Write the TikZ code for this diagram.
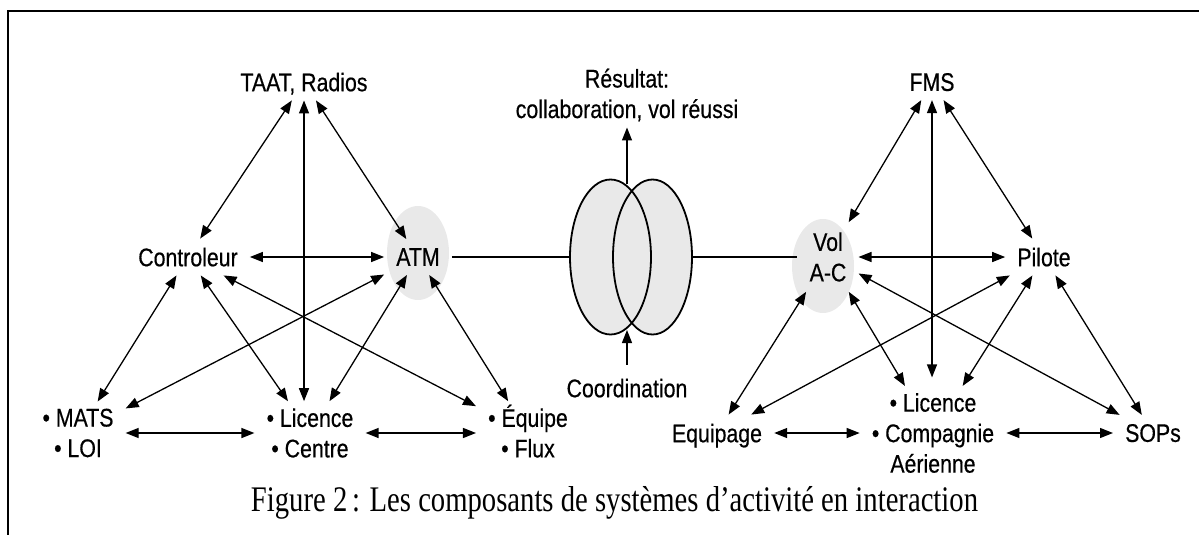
\documentclass[tikz,border=0pt]{standalone}
\usepackage{fontspec}
\usepackage{graphicx}
\setmainfont{Liberation Sans}[BoldFont=Liberation Sans, BoldFeatures={FakeBold=0.5}]
\newfontfamily\capfont{Liberation Serif}
\usetikzlibrary{arrows.meta,shapes.geometric}
\definecolor{bggray}{RGB}{233,233,233}
\newcommand{\nr}[1]{\scalebox{0.835}[1]{#1}}
\begin{document}
\begin{tikzpicture}[x=1pt,y=-1pt,
  lab/.style={rectangle, inner xsep=12pt, inner ysep=9pt, text depth=0pt, font=\fontsize{25.5}{30.5}\selectfont\bfseries},
  multi/.style={rectangle, align=center, inner xsep=12pt, inner ysep=7pt, font=\fontsize{25.5}{30.5}\selectfont\bfseries},
  conn/.style={line width=1.3pt, {Triangle[length=13pt,width=10pt]}-{Triangle[length=13pt,width=10pt]}},
  one/.style={line width=1.3pt, -{Triangle[length=13pt,width=10pt]}},
  plain/.style={line width=1.3pt},
  bigell/.style={ellipse, minimum height=155pt, inner sep=0pt, fill=bggray},
  ellline/.style={line width=1.8pt}
]
\useasboundingbox (0,0) rectangle (1199,535);
\draw[line width=2pt] (8,535) -- (8,11) -- (1199,11);

% background ellipses
\fill[bggray] (418,253) ellipse [x radius=31pt, y radius=47pt];
\fill[bggray] (823,266) ellipse [x radius=31pt, y radius=47pt];

% left system
\node[lab] (taat) at (304,82) {\nr{TAAT, Radios}};
\node[lab] (ctrl) at (188,257) {\nr{Controleur}};
\node[lab] (atm) at (418,257) {\nr{ATM}};
\node[multi] (mats) at (78,433) {\nr{• MATS}\\\nr{• LOI}};
\node[multi] (lic) at (310,433) {\nr{• Licence}\\\nr{• Centre}};
\node[multi] (equ) at (528,433) {\nr{• \smash{É}quipe}\\\nr{• Flux}};

% centre
\node[bigell, minimum width=81pt] (lell) at (610.5,257) {};
\node[bigell, minimum width=79pt] (rell) at (652.5,257) {};
\draw[ellline] (lell.center) ellipse [x radius=40.5pt, y radius=77.5pt];
\draw[ellline] (rell.center) ellipse [x radius=39.5pt, y radius=77.5pt];
\node[multi, inner ysep=6pt] (res) at (627,95) {\nr{Résultat:}\\\nr{collaboration, vol réussi}};
\node[lab, inner ysep=14pt] (coord) at (627,388) {\nr{Coordination}};
\coordinate (xtop) at (627,184);
\coordinate (xbot) at (627,330);

% right system
\node[lab] (fms) at (932,82) {\nr{FMS}};
\node[multi, inner ysep=10pt] (vol) at (828,257) {\nr{Vol}\\\nr{A-C}};
\node[lab] (pil) at (1044,257) {\nr{Pilote}};
\node[lab] (eqp) at (717,433) {\nr{Equipage}};
\node[multi] (lca) at (933,433) {\nr{• Licence}\\\nr{• Compagnie}\\\nr{Aérienne}};
\node[lab] (sops) at (1153,433) {\nr{SOPs}};

% left connectors
\draw[conn] (taat) -- (ctrl);
\draw[conn] (taat) -- (atm);
\draw[conn] (taat.south) -- (taat.south |- lic.north);
\draw[conn] (ctrl) -- (atm);
\draw[conn] (ctrl) -- (mats);
\draw[conn] (ctrl) -- (lic);
\draw[conn] (ctrl) -- (equ);
\draw[conn] (atm) -- (mats);
\draw[conn] (atm) -- (lic);
\draw[conn] (atm) -- (equ);
\draw[conn] (mats) -- (lic);
\draw[conn] (lic) -- (equ);

% centre connectors
\draw[plain] (atm) -- (lell);
\draw[plain] (rell) -- (vol);
\draw[one] (xtop) -- (res);
\draw[one] (coord) -- (xbot);

% right connectors
\draw[conn] (fms) -- (vol);
\draw[conn] (fms) -- (pil);
\draw[conn, shorten >=8.5pt] (fms.south) -- (fms.south |- lca.north);
\draw[conn] (vol) -- (pil);
\draw[conn] (vol) -- (eqp);
\draw[conn] (vol) -- (lca);
\draw[conn] (vol) -- (sops);
\draw[conn] (pil) -- (eqp);
\draw[conn] (pil) -- (lca);
\draw[conn] (pil) -- (sops);
\draw[conn] (eqp) -- (lca);
\draw[conn] (lca) -- (sops);

% caption
\node[anchor=base, inner sep=0pt] (cap) at (614.5,511) {\resizebox{727pt}{\height}{\capfont\fontsize{36}{42}\selectfont Figure 2\,: Les composants de systèmes d’activité en interaction}};
\end{tikzpicture}
\end{document}
